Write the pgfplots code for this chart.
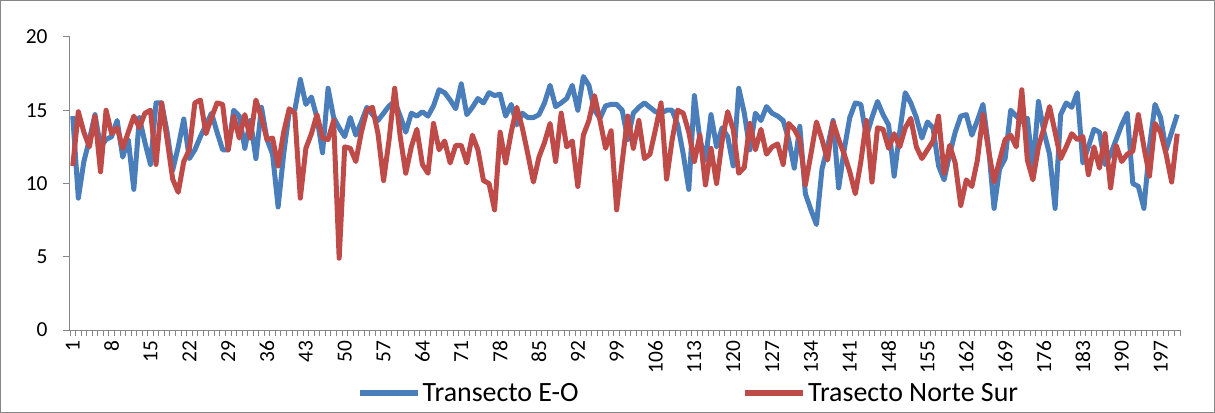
\documentclass[border=0pt]{standalone}
\usepackage{pgfplots}
\pgfplotsset{compat=1.18}
\usepackage{pgfplotstable}
\usepackage{fontspec}
\setmainfont{Carlito}

\definecolor{eoblue}{HTML}{4A7EBB}
\definecolor{nsred}{HTML}{BE4B48}
\definecolor{axisgray}{HTML}{868686}

% punto, transecto E-O, transecto norte-sur
\pgfplotstableread{
i eo ns
1 14.6 11.2
2 9.0 14.9
3 11.5 13.5
4 13.0 12.5
5 14.7 14.6
6 12.5 10.8
7 13.0 15.0
8 13.2 13.4
9 14.3 13.8
10 11.8 12.4
11 13.0 13.5
12 9.6 14.6
13 14.5 13.8
14 12.8 14.8
15 11.3 15.0
16 15.5 11.3
17 15.5 15.5
18 13.5 13.0
19 10.9 10.3
20 12.5 9.4
21 14.4 11.5
22 11.7 12.3
23 12.3 15.5
24 13.2 15.7
25 14.0 13.4
26 14.8 14.5
27 13.5 15.5
28 12.3 15.4
29 12.3 12.3
30 15.0 14.6
31 14.6 13.1
32 12.4 14.7
33 14.3 13.1
34 11.7 15.7
35 15.2 14.5
36 13.0 13.0
37 12.0 13.1
38 8.4 11.2
39 12.0 13.5
40 14.9 15.1
41 15.0 14.8
42 17.1 9.0
43 15.4 12.4
44 15.9 13.4
45 14.5 14.7
46 12.1 13.1
47 16.5 13.0
48 14.5 14.3
49 13.8 4.9
50 13.2 12.5
51 14.5 12.4
52 13.3 11.5
53 14.2 13.5
54 15.2 15.0
55 14.7 15.2
56 14.3 13.4
57 14.8 10.2
58 15.3 13.0
59 15.6 16.5
60 14.6 13.2
61 13.5 10.7
62 14.8 12.5
63 14.6 13.7
64 14.9 11.3
65 14.6 10.7
66 15.3 14.1
67 16.4 12.3
68 16.2 12.9
69 15.7 11.4
70 15.1 12.6
71 16.8 12.6
72 14.7 11.4
73 15.2 13.3
74 15.8 12.3
75 15.5 10.2
76 16.2 10.0
77 16.0 8.2
78 16.1 13.5
79 14.6 11.4
80 15.4 13.5
81 14.0 15.2
82 14.8 13.8
83 14.5 12.0
84 14.5 10.1
85 14.7 11.8
86 15.5 12.8
87 16.7 14.1
88 15.25 11.5
89 15.5 14.8
90 15.8 12.5
91 16.7 12.9
92 15.0 9.8
93 17.3 13.3
94 16.7 14.3
95 15.0 16.0
96 14.45 14.3
97 15.3 12.4
98 15.4 13.6
99 15.4 8.2
100 15.0 11.5
101 13.0 14.6
102 14.8 12.4
103 15.2 14.3
104 15.5 11.7
105 15.2 12.0
106 14.9 13.7
107 14.8 15.5
108 15.0 10.3
109 15.0 13.0
110 14.0 15.0
111 12.0 14.8
112 9.6 13.5
113 16.0 11.5
114 13.0 13.3
115 11.6 9.9
116 14.7 12.4
117 12.5 10.0
118 13.8 12.9
119 13.2 14.9
120 11.2 13.7
121 16.5 10.7
122 14.8 11.1
123 12.3 14.1
124 14.8 12.3
125 14.3 13.7
126 15.25 12.0
127 14.8 12.5
128 14.6 12.7
129 14.3 11.3
130 13.0 14.1
131 11.05 13.7
132 13.9 13.0
133 9.3 9.9
134 8.2 12.0
135 7.2 14.2
136 11.0 13.0
137 12.5 11.6
138 14.3 14.2
139 9.7 13.0
140 12.3 12.0
141 14.5 10.8
142 15.5 9.3
143 15.4 11.5
144 13.2 14.3
145 14.5 10.1
146 15.6 13.8
147 14.7 13.7
148 14.0 12.4
149 10.5 13.4
150 13.5 12.5
151 16.2 13.8
152 15.5 14.45
153 14.5 12.5
154 13.1 11.7
155 14.2 12.3
156 13.8 12.9
157 11.2 14.6
158 10.25 10.7
159 12.0 12.6
160 13.5 11.4
161 14.6 8.5
162 14.7 10.25
163 13.3 9.8
164 14.3 11.6
165 15.4 14.7
166 12.5 12.3
167 8.3 10.1
168 11.0 11.6
169 11.7 13.0
170 15.0 13.3
171 14.6 12.5
172 14.2 16.4
173 14.45 11.6
174 11.0 10.25
175 15.6 12.5
176 13.5 13.8
177 12.0 15.25
178 8.3 13.5
179 14.7 11.7
180 15.5 12.5
181 15.2 13.4
182 16.2 13.0
183 11.4 13.2
184 12.5 10.6
185 13.7 12.5
186 13.5 11.05
187 11.3 13.4
188 12.0 9.7
189 13.0 12.6
190 14.0 11.5
191 14.8 12.0
192 10.0 12.2
193 9.8 14.7
194 8.3 12.5
195 12.5 10.5
196 15.4 14.1
197 14.5 13.5
198 12.3 12.0
199 13.5 10.1
200 14.7 13.4
}\transectos

\begin{document}
\begin{tikzpicture}
\useasboundingbox (-70bp,-83bp) rectangle (1145bp,330bp);
\draw[axisgray, line width=0.75bp] (-69.4bp,-82.4bp) rectangle (1144.4bp,329.4bp);
\begin{axis}[
  at={(0,0)}, anchor=south west,
  scale only axis, width=1110bp, height=293bp,
  xmin=0.5, xmax=200.5, ymin=0, ymax=20,
  axis x line*=bottom, axis y line*=left,
  axis line style={axisgray, line width=1bp, -},
  tick align=outside,
  ytick={0,5,...,20},
  major tick length=7bp,
  minor tick length=6bp,
  y tick style={axisgray, line width=1bp},
  xtick={1,8,...,197},
  major x tick style={draw=none},
  minor xtick={0.5,1.5,...,200.5},
  minor x tick style={axisgray, line width=0.8bp},
  /pgf/number format/assume math mode=true,
  ticklabel style={font=\fontsize{21.5}{24}\selectfont, text=black},
  x tick label style={rotate=90, anchor=east},
  y tick label style={anchor=east, xshift=-12bp},
  legend columns=2,
  legend style={at={(0.2586,-0.215)}, anchor=west, draw=none, fill=none,
    inner sep=0pt, font=\fontsize{28}{30}\selectfont,
    /tikz/every even column/.append style={column sep=162bp}},
  legend cell align=left,
  legend image code/.code={\draw[#1, line width=5.5bp, line cap=butt] (0bp,0bp) -- (58bp,0bp);},
]
\addplot[eoblue, line width=5bp, line join=round, mark=none] table[x=i, y=eo] {\transectos};
\addplot[nsred, line width=5bp, line join=round, mark=none] table[x=i, y=ns] {\transectos};
\legend{Transecto E-O, Trasecto Norte Sur}
\end{axis}
\end{tikzpicture}
\end{document}
